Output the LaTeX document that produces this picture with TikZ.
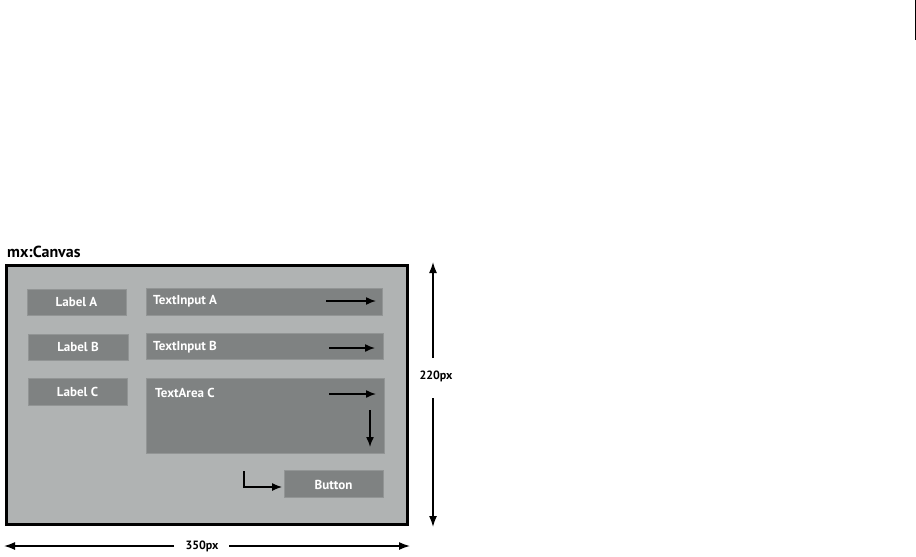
\documentclass[tikz,border=0pt]{standalone}
\usepackage{fontspec}
\setmainfont{PT Sans}
\usetikzlibrary{arrows.meta}
\definecolor{canvasgrey}{HTML}{B0B3B3}
\definecolor{boxgrey}{HTML}{7F8282}
\begin{document}
\begin{tikzpicture}[x=1pt,y=-1pt,
  comp/.style={draw=boxgrey!85!white, line width=0.8pt, fill=boxgrey},
  wtext/.style={text=white, font=\bfseries\fontsize{13}{14}\selectfont, inner sep=0pt},
  arr/.style={line width=1.5pt, -{Latex[length=10pt,width=8pt]}},
  dim/.style={line width=1.5pt, -{Latex[length=11pt,width=8pt]}},
  dimlabel/.style={font=\bfseries\fontsize{12}{13}\selectfont, inner sep=0pt}]
\useasboundingbox (0,0) rectangle (916,557);
% stray mark at top right
\draw[line width=0.8pt] (915,0) -- (915,40);
% title
\node[anchor=west, font=\bfseries\fontsize{16}{17}\selectfont, inner sep=0pt] (title) at (7,252) {mx:Canvas};
% canvas
\draw[fill=canvasgrey, line width=3pt] (6.5,265.5) rectangle (407.5,524.5);
% labels
\draw[comp] (27,289) rectangle (126,315);
\node[wtext] (la) at (76.5,302) {Label A};
\draw[comp] (28,334) rectangle (128,360);
\node[wtext] (lb) at (78,347) {Label B};
\draw[comp] (28,378) rectangle (127,405);
\node[wtext] (lc) at (77.5,391.5) {Label C};
% text inputs
\draw[comp] (146,288) rectangle (382,315);
\node[wtext, anchor=west] (ta) at (153,301) {TextInput A};
\draw[comp] (146,333) rectangle (383,359);
\node[wtext, anchor=west] (tb) at (153,347) {TextInput B};
\draw[comp] (146,378) rectangle (384,453);
\node[wtext, anchor=west] (tc) at (155,393) {TextArea C};
% button
\draw[comp] (284,470) rectangle (383,497);
\node[wtext] (btn) at (333.5,484.5) {Button};
% arrows
\coordinate (a1s) at (326,301); \coordinate (a1e) at (376,301);
\draw[arr] (a1s) -- (a1e);
\coordinate (a2s) at (329,348); \coordinate (a2e) at (375,348);
\draw[arr] (a2s) -- (a2e);
\coordinate (a3s) at (329,394); \coordinate (a3e) at (376,394);
\draw[arr] (a3s) -- (a3e);
\coordinate (a4s) at (370,410); \coordinate (a4e) at (370,447);
\draw[arr] (a4s) -- (a4e);
\coordinate (a5s) at (244,471); \coordinate (a5e) at (282,487);
\draw[line width=1.2pt, -{Latex[length=10pt,width=8pt]}] (a5s) |- (a5e);
% height dimension
\node[dimlabel] (h) at (436,376) {220px};
\coordinate (htop) at (433,262); \coordinate (hbot) at (433,527);
\draw[dim] (433,358) -- (htop);
\draw[dim] (433,398) -- (hbot);
% width dimension
\node[dimlabel] (w) at (202,546) {350px};
\coordinate (wl) at (4,546); \coordinate (wr) at (410,546);
\draw[dim] (174,546) -- (wl);
\draw[dim] (229,546) -- (wr);
\end{tikzpicture}
\end{document}
